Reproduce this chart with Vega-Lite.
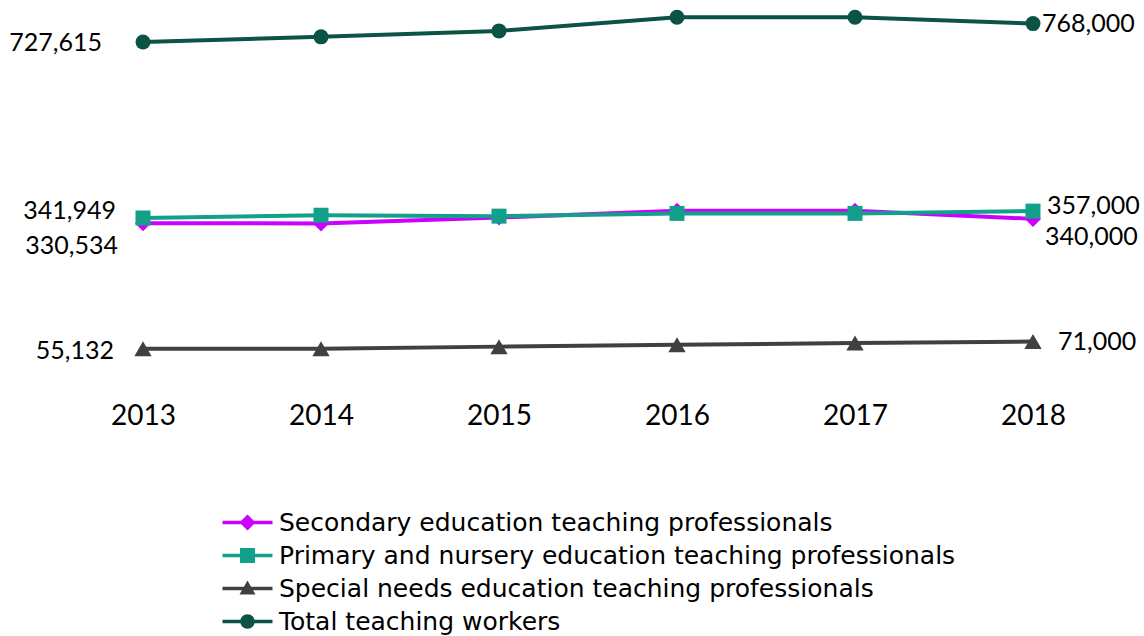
{
  "$schema": "https://vega.github.io/schema/vega-lite/v6.json",
  "width": 890,
  "height": 365,
  "autosize": "none",
  "padding": {"left": 143, "top": 9, "right": 111, "bottom": 262},
  "background": "white",
  "config": {"view": {"stroke": null}, "font": "Lato"},
  "data": {
    "values": [
      {"series": "Secondary education teaching professionals", "year": "2013", "value": 330534},
      {"series": "Secondary education teaching professionals", "year": "2014", "value": 330000},
      {"series": "Secondary education teaching professionals", "year": "2015", "value": 343000},
      {"series": "Secondary education teaching professionals", "year": "2016", "value": 358000},
      {"series": "Secondary education teaching professionals", "year": "2017", "value": 358000},
      {"series": "Secondary education teaching professionals", "year": "2018", "value": 340000},
      {"series": "Primary and nursery education teaching professionals", "year": "2013", "value": 341949},
      {"series": "Primary and nursery education teaching professionals", "year": "2014", "value": 348000},
      {"series": "Primary and nursery education teaching professionals", "year": "2015", "value": 346000},
      {"series": "Primary and nursery education teaching professionals", "year": "2016", "value": 352000},
      {"series": "Primary and nursery education teaching professionals", "year": "2017", "value": 352000},
      {"series": "Primary and nursery education teaching professionals", "year": "2018", "value": 357000},
      {"series": "Special needs education teaching professionals", "year": "2013", "value": 55132},
      {"series": "Special needs education teaching professionals", "year": "2014", "value": 55500},
      {"series": "Special needs education teaching professionals", "year": "2015", "value": 60000},
      {"series": "Special needs education teaching professionals", "year": "2016", "value": 64000},
      {"series": "Special needs education teaching professionals", "year": "2017", "value": 68000},
      {"series": "Special needs education teaching professionals", "year": "2018", "value": 71000},
      {"series": "Total teaching workers", "year": "2013", "value": 727615},
      {"series": "Total teaching workers", "year": "2014", "value": 739000},
      {"series": "Total teaching workers", "year": "2015", "value": 752000},
      {"series": "Total teaching workers", "year": "2016", "value": 782000},
      {"series": "Total teaching workers", "year": "2017", "value": 782000},
      {"series": "Total teaching workers", "year": "2018", "value": 768000}
    ]
  },
  "encoding": {
    "x": {
      "field": "year",
      "type": "ordinal",
      "scale": {"type": "point", "padding": 0},
      "axis": {"title": null, "labelAngle": 0, "domain": false, "ticks": false, "grid": false, "labelFontSize": 28, "labelColor": "#000000", "labelPadding": 28, "labelFont": "Lato"}
    },
    "y": {"field": "value", "type": "quantitative", "scale": {"domain": [0, 800000]}, "axis": null}
  },
  "layer": [
    {
      "mark": {"type": "point", "filled": true, "opacity": 0},
      "encoding": {
        "color": {
          "field": "series", "type": "nominal",
          "scale": {
            "domain": ["Secondary education teaching professionals", "Primary and nursery education teaching professionals", "Special needs education teaching professionals", "Total teaching workers"],
            "range": ["#CC00FF", "#13A08A", "#404040", "#0B5345"]
          },
          "legend": {"title": null, "orient": "none", "legendX": 92, "legendY": 501, "direction": "vertical", "symbolSize": 100, "symbolOpacity": 1, "symbolStrokeWidth": 0, "labelFontSize": 25, "labelFont": "DejaVu Sans", "labelColor": "#000000", "rowPadding": 7, "labelOffset": 19, "labelLimit": 900}
        },
        "shape": {
          "field": "series", "type": "nominal",
          "scale": {
            "domain": ["Secondary education teaching professionals", "Primary and nursery education teaching professionals", "Special needs education teaching professionals", "Total teaching workers"],
            "range": [
              "M-5,-0.35H5V0.35H-5Z M0,-1.6L1.6,0L0,1.6L-1.6,0Z",
              "M-5,-0.35H5V0.35H-5Z M-1.5,-1.5H1.5V1.5H-1.5Z",
              "M-5,-0.35H5V0.35H-5Z M0,-1.6L1.6,1.2H-1.6Z",
              "M-5,-0.35H5V0.35H-5Z M-1.45,0A1.45,1.45 0 1,1 1.45,0A1.45,1.45 0 1,1 -1.45,0Z"
            ]
          },
          "legend": {"title": null, "orient": "none", "legendX": 92, "legendY": 501, "direction": "vertical", "symbolSize": 100, "symbolOpacity": 1, "symbolStrokeWidth": 0, "labelFontSize": 25, "labelFont": "DejaVu Sans", "labelColor": "#000000", "rowPadding": 7, "labelOffset": 19, "labelLimit": 900}
        }
      }
    },
    {
      "mark": {"type": "line", "strokeWidth": 4},
      "encoding": {
        "color": {"field": "series", "type": "nominal", "legend": null}
      }
    },
    {
      "transform": [{"filter": "datum.series === 'Secondary education teaching professionals'"}],
      "mark": {"type": "point", "filled": true, "opacity": 1, "shape": "diamond", "size": 256, "color": "#CC00FF"}
    },
    {
      "transform": [{"filter": "datum.series === 'Primary and nursery education teaching professionals'"}],
      "mark": {"type": "point", "filled": true, "opacity": 1, "shape": "square", "size": 225, "color": "#13A08A"}
    },
    {
      "transform": [{"filter": "datum.series === 'Special needs education teaching professionals'"}],
      "mark": {"type": "point", "filled": true, "opacity": 1, "shape": "triangle-up", "size": 300, "color": "#404040"}
    },
    {
      "transform": [{"filter": "datum.series === 'Total teaching workers'"}],
      "mark": {"type": "point", "filled": true, "opacity": 1, "shape": "circle", "size": 225, "color": "#0B5345"}
    },
    {
      "transform": [{"filter": "datum.series === 'Total teaching workers' && datum.year === '2013'"}],
      "mark": {"type": "text", "align": "right", "baseline": "middle", "dx": -41, "dy": 1, "fontSize": 25, "font": "Lato", "color": "#000000"},
      "encoding": {"text": {"field": "value", "type": "quantitative", "format": ","}}
    },
    {
      "transform": [{"filter": "datum.series === 'Primary and nursery education teaching professionals' && datum.year === '2013'"}],
      "mark": {"type": "text", "align": "right", "baseline": "middle", "dx": -27, "dy": -7, "fontSize": 25, "font": "Lato", "color": "#000000"},
      "encoding": {"text": {"field": "value", "type": "quantitative", "format": ","}}
    },
    {
      "transform": [{"filter": "datum.series === 'Secondary education teaching professionals' && datum.year === '2013'"}],
      "mark": {"type": "text", "align": "right", "baseline": "middle", "dx": -25, "dy": 23, "fontSize": 25, "font": "Lato", "color": "#000000"},
      "encoding": {"text": {"field": "value", "type": "quantitative", "format": ","}}
    },
    {
      "transform": [{"filter": "datum.series === 'Special needs education teaching professionals' && datum.year === '2013'"}],
      "mark": {"type": "text", "align": "right", "baseline": "middle", "dx": -29, "dy": 2, "fontSize": 25, "font": "Lato", "color": "#000000"},
      "encoding": {"text": {"field": "value", "type": "quantitative", "format": ","}}
    },
    {
      "transform": [{"filter": "datum.series === 'Total teaching workers' && datum.year === '2018'"}],
      "mark": {"type": "text", "align": "left", "baseline": "middle", "dx": 9, "dy": 0, "fontSize": 25, "font": "Lato", "color": "#000000"},
      "encoding": {"text": {"field": "value", "type": "quantitative", "format": ","}}
    },
    {
      "transform": [{"filter": "datum.series === 'Primary and nursery education teaching professionals' && datum.year === '2018'"}],
      "mark": {"type": "text", "align": "left", "baseline": "middle", "dx": 14, "dy": -5, "fontSize": 25, "font": "Lato", "color": "#000000"},
      "encoding": {"text": {"field": "value", "type": "quantitative", "format": ","}}
    },
    {
      "transform": [{"filter": "datum.series === 'Secondary education teaching professionals' && datum.year === '2018'"}],
      "mark": {"type": "text", "align": "left", "baseline": "middle", "dx": 12, "dy": 18, "fontSize": 25, "font": "Lato", "color": "#000000"},
      "encoding": {"text": {"field": "value", "type": "quantitative", "format": ","}}
    },
    {
      "transform": [{"filter": "datum.series === 'Special needs education teaching professionals' && datum.year === '2018'"}],
      "mark": {"type": "text", "align": "left", "baseline": "middle", "dx": 25, "dy": 0, "fontSize": 25, "font": "Lato", "color": "#000000"},
      "encoding": {"text": {"field": "value", "type": "quantitative", "format": ","}}
    }
  ]
}
